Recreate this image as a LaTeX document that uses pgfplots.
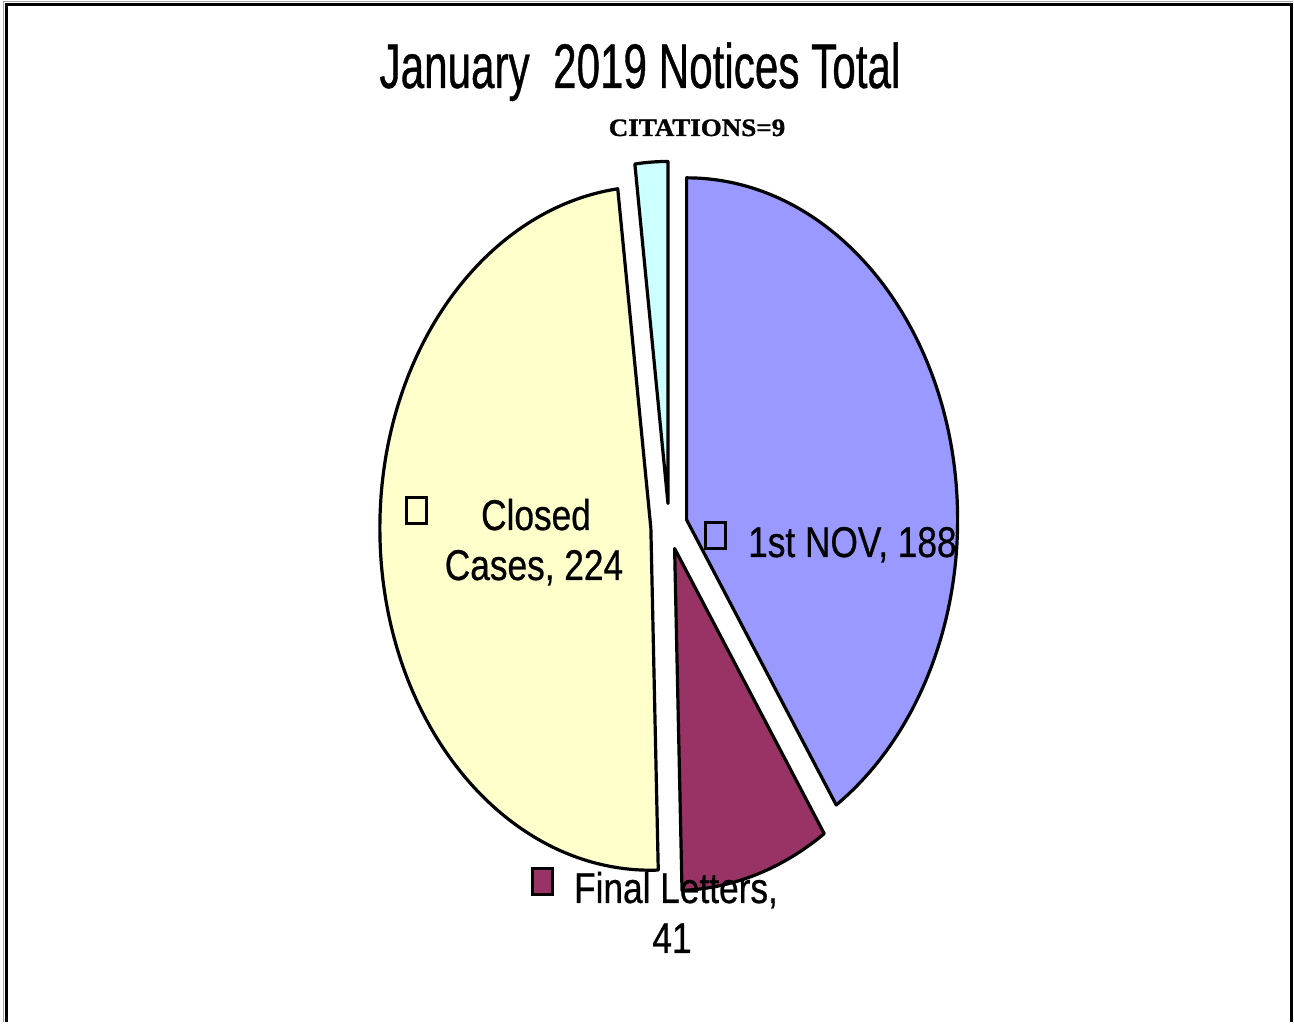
\documentclass[border=0pt]{standalone}
\usepackage{pgfplots}
\pgfplotsset{compat=1.18}
\usepackage{pgfplotstable}
\usepackage{fontspec}
\setmainfont{Liberation Sans}
\newfontfamily\titlefont{Liberation Sans}[FakeStretch=0.67, FakeBold=0.6]
\newfontfamily\labelfont{Liberation Sans}[FakeStretch=0.82, FakeBold=0.6]
\newfontfamily\citefont{Liberation Serif}[FakeStretch=1.08, FakeBold=1.2]

\definecolor{novcol}{HTML}{9999FF}
\definecolor{finalcol}{HTML}{993366}
\definecolor{closedcol}{HTML}{FFFFCC}
\definecolor{citecol}{HTML}{CCFFFF}

% notices in January 2019
\pgfplotstableread[col sep=comma]{
slice,value
1st NOV,188
Final Letters,41
Closed Cases,224
CITATIONS,9
}\notices

% pie geometry, in axis units (1 unit = 1pt)
\def\cx{669.1}
\def\cy{495.5}
\def\rx{271}
\def\ry{342}
\def\ex{0.0675}

% one exploded slice: start angle, end angle, colour
\newcommand\slice[3]{%
  \filldraw[fill=#3, draw=black, line width=3.2pt, line join=round]
    (axis cs:{\cx+\ex*\rx*cos((#1+#2)/2)},{\cy+\ex*\ry*sin((#1+#2)/2)})
    -- (axis cs:{\cx+\ex*\rx*cos((#1+#2)/2)+\rx*cos(#1)},{\cy+\ex*\ry*sin((#1+#2)/2)+\ry*sin(#1)})
    arc[start angle=#1, end angle=#2, x radius=\rx, y radius=\ry] -- cycle;}

% legend key square
\newcommand\key[3]{%
  \filldraw[fill=#3, draw=black, line width=3pt]
    (axis cs:{#1-10},{#2-13}) rectangle (axis cs:{#1+10},{#2+13});}

\begin{document}
\begin{tikzpicture}
\pgfplotstablegetelem{0}{value}\of\notices\let\vA\pgfplotsretval
\pgfplotstablegetelem{1}{value}\of\notices\let\vB\pgfplotsretval
\pgfplotstablegetelem{2}{value}\of\notices\let\vC\pgfplotsretval
\pgfplotstablegetelem{3}{value}\of\notices\let\vD\pgfplotsretval
\pgfmathsetmacro\tot{\vA+\vB+\vC+\vD}
\pgfmathsetmacro\aA{90}
\pgfmathsetmacro\aB{\aA-360*(\vA/\tot)}
\pgfmathsetmacro\aC{\aB-360*(\vB/\tot)}
\pgfmathsetmacro\aD{\aC-360*(\vC/\tot)}
\pgfmathsetmacro\aE{\aD-360*(\vD/\tot)}
\begin{axis}[
    x=1pt, y=1pt,
    xmin=0, xmax=1294, ymin=0, ymax=1022,
    scale only axis,
    hide axis,
    clip=false,
  ]
  \path (axis cs:0,0) rectangle (axis cs:1294,1022);

  % frame (bottom edge is cut off)
  \draw[black!35, line width=1pt] (axis cs:4,0) -- (axis cs:4,1020) -- (axis cs:1293,1020);
  \draw[black, line width=3pt] (axis cs:6.5,0) -- (axis cs:6.5,1017.5) -- (axis cs:1291.5,1017.5) -- (axis cs:1291.5,0);

  \slice{\aA}{\aB}{novcol}
  \slice{\aB}{\aC}{finalcol}
  \slice{\aC}{\aD}{closedcol}
  \slice{\aD}{\aE}{citecol}

  % title and labels
  \node[anchor=base, inner sep=0pt] at (axis cs:640,934)
    {\titlefont\fontsize{63}{70}\selectfont January\ \ 2019 Notices Total};
  \node[anchor=base, inner sep=0pt] at (axis cs:697,886)
    {\citefont\bfseries\fontsize{25}{28}\selectfont CITATIONS=9};

  \key{715}{486}{novcol}
  \node[anchor=base west, inner sep=0pt] at (axis cs:748,465)
    {\labelfont\fontsize{43}{50}\selectfont 1st NOV, 188};

  \key{416}{511}{closedcol}
  \node[anchor=base, inner sep=0pt] at (axis cs:536,492)
    {\labelfont\fontsize{43}{50}\selectfont Closed};
  \node[anchor=base, inner sep=0pt] at (axis cs:534,442)
    {\labelfont\fontsize{43}{50}\selectfont Cases, 224};

  \key{542}{140}{finalcol}
  \node[anchor=base, inner sep=0pt] at (axis cs:676,119)
    {\labelfont\fontsize{43}{50}\selectfont Final Letters,};
  \node[anchor=base, inner sep=0pt] at (axis cs:672,69)
    {\labelfont\fontsize{43}{50}\selectfont 41};
\end{axis}
\end{tikzpicture}
\end{document}
